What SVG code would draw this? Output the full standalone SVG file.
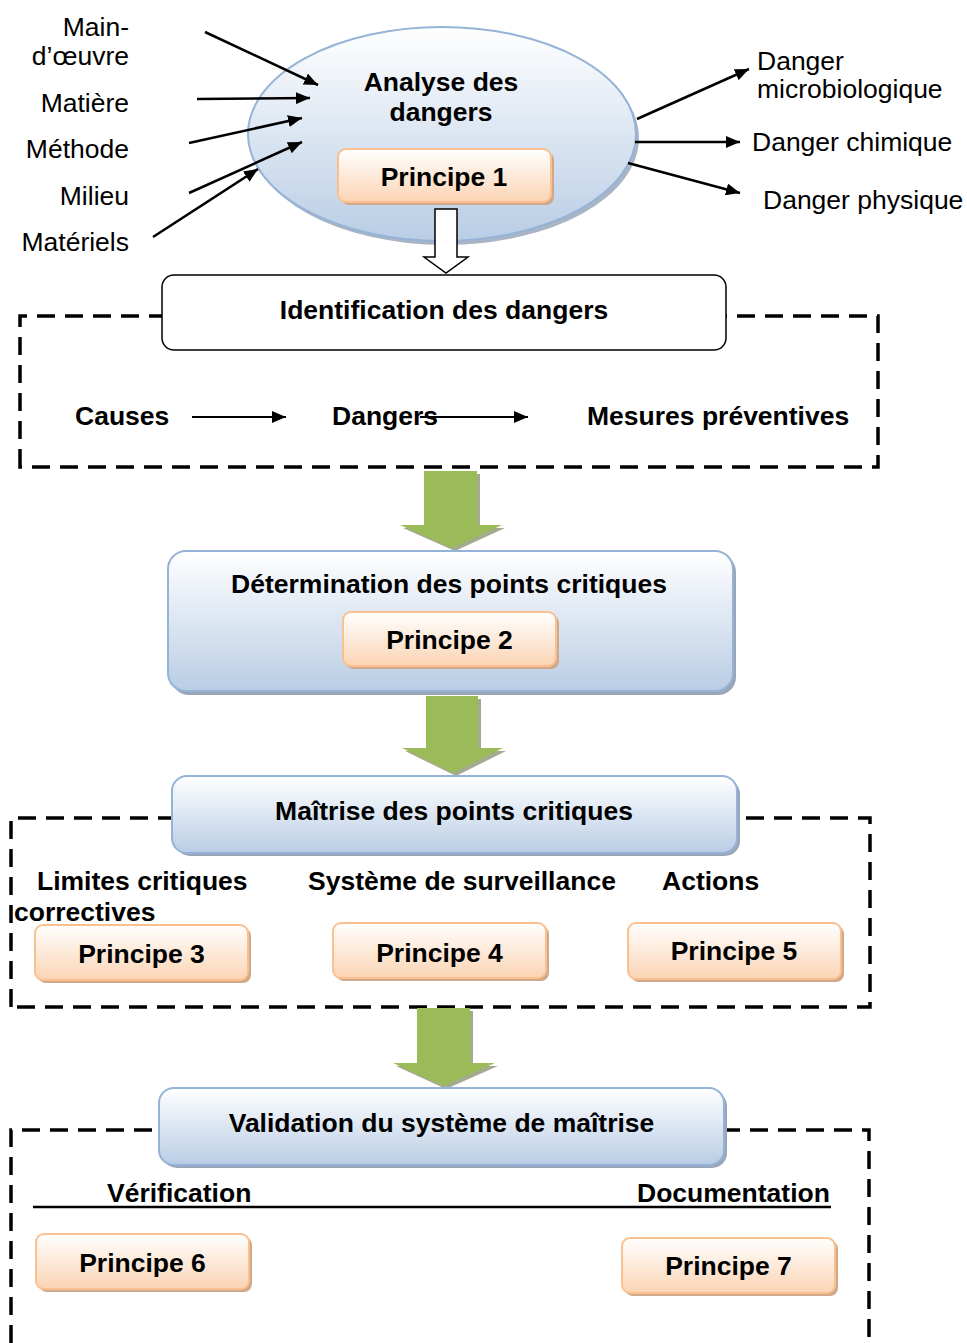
<svg xmlns="http://www.w3.org/2000/svg" width="967" height="1343" viewBox="0 0 967 1343">
<style>
text{font-family:"Liberation Sans",Arial,sans-serif;font-size:26.5px;fill:#000}
.b{font-weight:bold}
.m{text-anchor:middle}
.r{text-anchor:end}
.dash{fill:none;stroke:#000;stroke-width:3.5;stroke-dasharray:18 10}
.blue{fill:url(#gBlue);stroke:#95b3d7;stroke-width:2}
.bsh{fill:#9aa6b8}
.pr{fill:url(#gOr);stroke:#fac08f;stroke-width:2}
.psh{fill:#cfa98a}
.ar{stroke:#000;stroke-width:2.5;fill:none;marker-end:url(#ah)}
.green{fill:#9bbb59}
.gsh{fill:#a3aa8e}
</style>
<defs>
<linearGradient id="gBlue" x1="0" y1="0" x2="0" y2="1"><stop offset="0" stop-color="#ffffff"/><stop offset="1" stop-color="#b9cde5"/></linearGradient>
<linearGradient id="gOr" x1="0" y1="0" x2="0" y2="1"><stop offset="0" stop-color="#ffffff"/><stop offset="1" stop-color="#fbd4b4"/></linearGradient>
<marker id="ah" viewBox="0 0 14 12" refX="14" refY="6" markerWidth="14" markerHeight="12" markerUnits="userSpaceOnUse" orient="auto"><path d="M0,0 L14,6 L0,12 z" fill="#000"/></marker>
</defs>
<rect width="967" height="1343" fill="#fff"/>

<g id="regions">
<path class="dash" d="M20,467 L20,316 L878,316 L878,467 Z"/>
<path class="dash" d="M11,1007 L11,818 L870,818 L870,1007 Z"/>
<path class="dash" d="M11,1343 L11,1130 L869,1130 L869,1343"/>
</g>

<g id="analyse">
<ellipse cx="445" cy="138" rx="194" ry="107" fill="#a9b4c4"/>
<ellipse class="blue" cx="442" cy="134" rx="194" ry="107"/>
<text class="b m" x="441" y="91">Analyse des</text>
<text class="b m" x="441" y="121">dangers</text>
</g>
<g id="principe1">
<rect class="psh" x="341" y="152" width="213" height="53" rx="8"/>
<rect class="pr" x="338" y="149" width="213" height="53" rx="8"/>
<text class="b m" x="444" y="186">Principe 1</text>
</g>

<g id="open-arrow">
<polygon points="435,209 457,209 457,257 468,257 446,273 424,257 435,257" fill="#fff" stroke="#000" stroke-width="1.5"/>
</g>

<g id="labels-in">
<text class="r" x="129" y="36">Main-</text>
<text class="r" x="129" y="65">d’œuvre</text>
<text class="r" x="129" y="112">Matière</text>
<text class="r" x="129" y="158">Méthode</text>
<text class="r" x="129" y="205">Milieu</text>
<text class="r" x="129" y="251">Matériels</text>
</g>
<g id="labels-out">
<text x="757" y="70">Danger</text>
<text x="757" y="98">microbiologique</text>
<text x="752" y="151">Danger chimique</text>
<text x="763" y="209">Danger physique</text>
</g>

<g id="identification">
<rect x="162" y="275" width="564" height="75" rx="12" fill="#fff" stroke="#000" stroke-width="1.5"/>
<text class="b m" x="444" y="319">Identification des dangers</text>
</g>
<g id="chain">
<text class="b" x="75" y="425">Causes</text>
<text class="b" x="332" y="425">Dangers</text>
<text class="b" x="587" y="425">Mesures préventives</text>
</g>

<g id="green1">
<polygon class="gsh" points="427,474 480,474 480,528 505,528 455,551 403,528 427,528"/>
<polygon class="green" points="424,471 477,471 477,525 502,525 452,548 400,525 424,525"/>
</g>

<g id="determination">
<rect class="bsh" x="171" y="554" width="565" height="141" rx="18"/>
<rect class="blue" x="168" y="551" width="565" height="140" rx="18"/>
<text class="b m" x="449" y="593">Détermination des points critiques</text>
</g>
<g id="principe2">
<rect class="psh" x="346" y="615" width="213" height="54" rx="8"/>
<rect class="pr" x="343" y="612" width="213" height="54" rx="8"/>
<text class="b m" x="449.5" y="649">Principe 2</text>
</g>

<g id="green2">
<polygon class="gsh" points="429,699 481,699 481,751 506,751 456,776 405,751 429,751"/>
<polygon class="green" points="426,696 478,696 478,748 503,748 453,773 402,748 426,748"/>
</g>

<g id="maitrise">
<rect class="bsh" x="175" y="779" width="565" height="77" rx="15"/>
<rect class="blue" x="172" y="776" width="565" height="77" rx="15"/>
<text class="b m" x="454" y="820">Maîtrise des points critiques</text>
</g>
<g id="maitrise-labels">
<text class="b" x="37" y="890">Limites critiques</text>
<text class="b" x="14" y="921">correctives</text>
<text class="b" x="308" y="890">Système de surveillance</text>
<text class="b" x="662" y="890">Actions</text>
</g>
<g id="principe3">
<rect class="psh" x="38" y="928" width="213" height="55" rx="8"/>
<rect class="pr" x="35" y="925" width="213" height="55" rx="8"/>
<text class="b m" x="141.5" y="963">Principe 3</text>
</g>
<g id="principe4">
<rect class="psh" x="336" y="926" width="213" height="55" rx="8"/>
<rect class="pr" x="333" y="923" width="213" height="55" rx="8"/>
<text class="b m" x="439.5" y="962">Principe 4</text>
</g>
<g id="principe5">
<rect class="psh" x="631" y="926" width="213" height="56" rx="8"/>
<rect class="pr" x="628" y="923" width="213" height="56" rx="8"/>
<text class="b m" x="734" y="960">Principe 5</text>
</g>

<g id="green3">
<polygon class="gsh" points="420,1011 473,1011 473,1066 498,1066 446,1089 396,1066 420,1066"/>
<polygon class="green" points="417,1008 470,1008 470,1063 495,1063 443,1086 393,1063 417,1063"/>
</g>

<g id="validation">
<rect class="bsh" x="162" y="1091" width="565" height="77" rx="15"/>
<rect class="blue" x="159" y="1088" width="565" height="77" rx="15"/>
<text class="b m" x="441.5" y="1132">Validation du système de maîtrise</text>
</g>
<g id="validation-labels">
<line x1="33" y1="1207" x2="831" y2="1207" stroke="#000" stroke-width="2.5"/>
<text class="b" x="107" y="1202">Vérification</text>
<text class="b" x="637" y="1202">Documentation</text>
</g>
<g id="principe6">
<rect class="psh" x="39" y="1237" width="213" height="55" rx="8"/>
<rect class="pr" x="36" y="1234" width="213" height="55" rx="8"/>
<text class="b m" x="142.5" y="1272">Principe 6</text>
</g>
<g id="principe7">
<rect class="psh" x="625" y="1241" width="213" height="55" rx="8"/>
<rect class="pr" x="622" y="1238" width="213" height="55" rx="8"/>
<text class="b m" x="728.5" y="1275">Principe 7</text>
</g>

<g id="connectors">
<line class="ar" x1="205" y1="32" x2="318" y2="85"/>
<line class="ar" x1="197" y1="99" x2="310" y2="98"/>
<line class="ar" x1="189" y1="143" x2="302" y2="118"/>
<line class="ar" x1="189" y1="193" x2="302" y2="142"/>
<line class="ar" x1="153" y1="237" x2="258" y2="169"/>
<line class="ar" x1="637" y1="119" x2="749" y2="69"/>
<line class="ar" x1="635" y1="142" x2="740" y2="142"/>
<line class="ar" x1="628" y1="163" x2="740" y2="193"/>
<line class="ar" style="stroke-width:2" x1="192" y1="417" x2="286" y2="417"/>
<line class="ar" style="stroke-width:2" x1="420" y1="417" x2="528" y2="417"/>
</g>
</svg>
